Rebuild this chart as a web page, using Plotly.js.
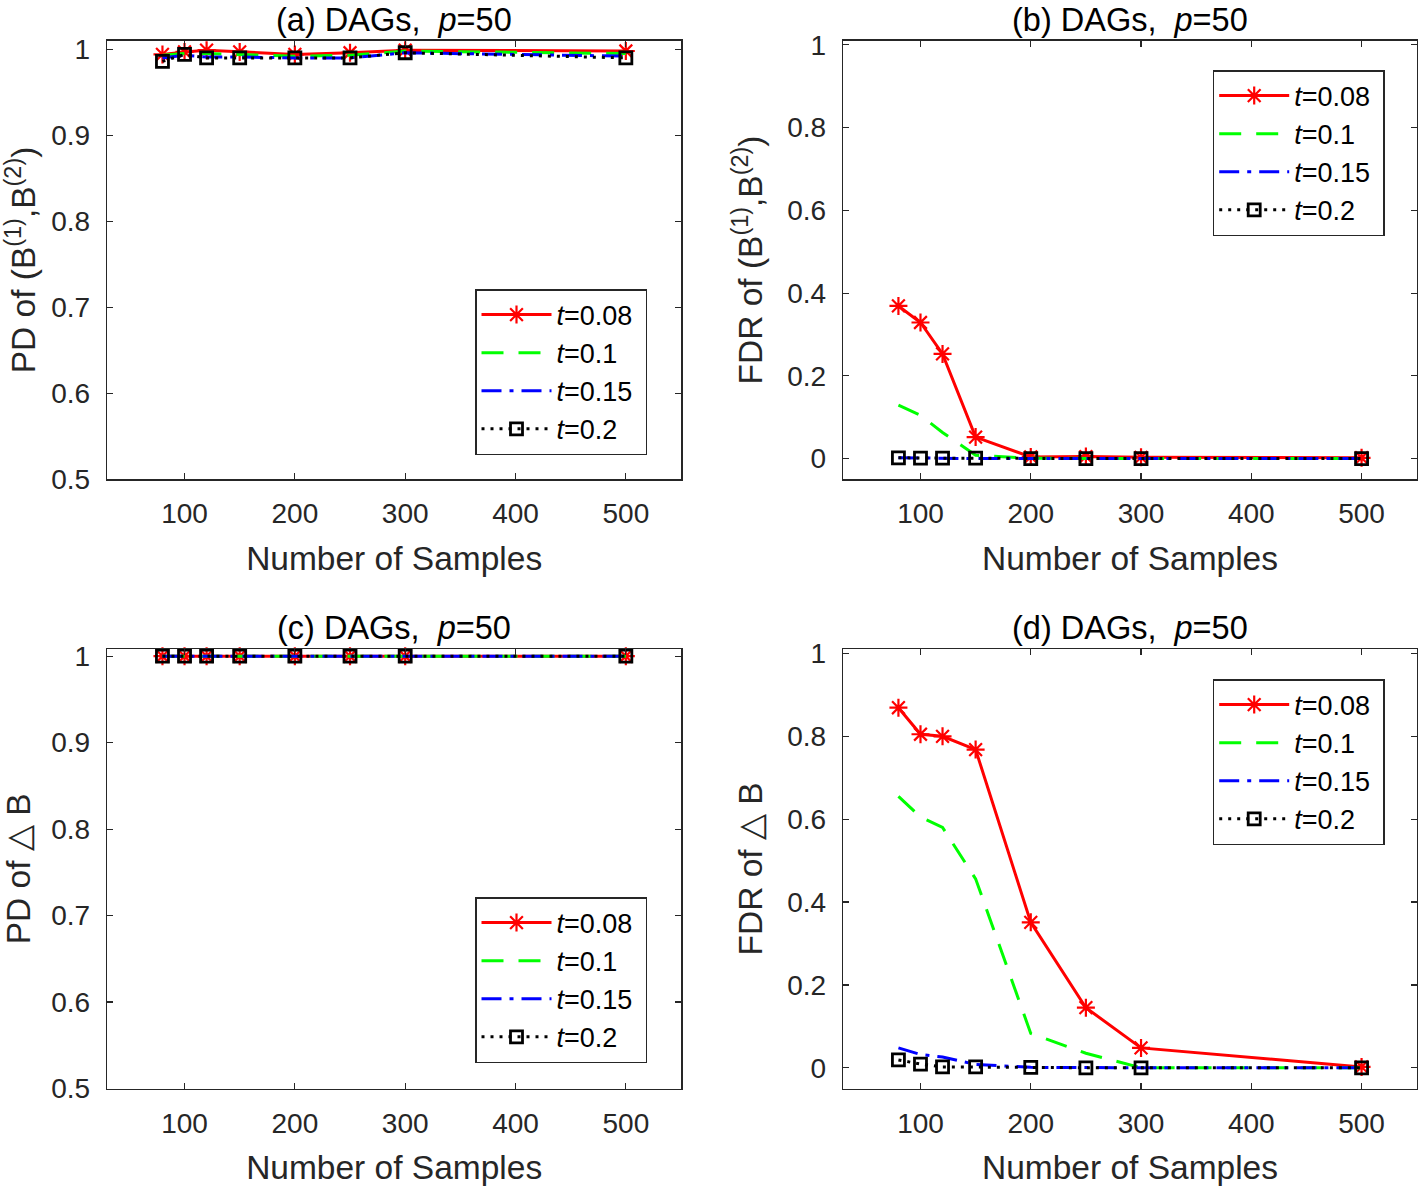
<!DOCTYPE html>
<html>
<head>
<meta charset="utf-8">
<script src="https://cdn.plot.ly/plotly-3.0.1.min.js"></script>
<style>
html,body{margin:0;padding:0;background:#fff;}
#chart{width:1418px;height:1186px;}
</style>
</head>
<body>
<div id="chart"></div>
<script>
// ---- data ----
const samples = [80, 100, 120, 150, 200, 250, 300, 500];
const seriesNames = ['<i>t</i>=0.08', '<i>t</i>=0.1', '<i>t</i>=0.15', '<i>t</i>=0.2'];

// (a) PD of (B(1),B(2))
const pdB12_t008 = [0.994, 0.997, 0.999, 0.997, 0.994, 0.996, 0.999, 0.998];
const pdB12_t01  = [0.993, 0.995, 0.995, 0.994, 0.992, 0.993, 0.998, 0.995];
const pdB12_t015 = [0.990, 0.993, 0.991, 0.991, 0.990, 0.990, 0.996, 0.992];
const pdB12_t02  = [0.986, 0.994, 0.990, 0.990, 0.990, 0.990, 0.996, 0.990];

// (b) FDR of (B(1),B(2))
const fdrB12_t008 = [0.369, 0.329, 0.253, 0.052, 0.004, 0.005, 0.003, 0.002];
const fdrB12_t01  = [0.129, 0.105, 0.063, 0.008, 0.001, 0.000, 0.000, 0.000];
const fdrB12_t015 = [0.002, 0.001, 0.001, 0.000, 0.000, 0.000, 0.000, 0.000];
const fdrB12_t02  = [0.002, 0.001, 0.001, 0.001, 0.000, 0.000, 0.000, 0.000];

// (c) PD of delta B
const pdDB_t008 = [1, 1, 1, 1, 1, 1, 1, 1];
const pdDB_t01  = [1, 1, 1, 1, 1, 1, 1, 1];
const pdDB_t015 = [1, 1, 1, 1, 1, 1, 1, 1];
const pdDB_t02  = [1, 1, 1, 1, 1, 1, 1, 1];

// (d) FDR of delta B
const fdrDB_t008 = [0.869, 0.805, 0.800, 0.768, 0.351, 0.145, 0.048, 0.002];
const fdrDB_t01  = [0.655, 0.605, 0.580, 0.456, 0.083, 0.035, 0.000, 0.000];
const fdrDB_t015 = [0.048, 0.032, 0.026, 0.008, 0.001, 0.000, 0.000, 0.000];
const fdrDB_t02  = [0.019, 0.009, 0.002, 0.002, 0.001, 0.000, 0.000, 0.000];

const xTicks = [100, 200, 300, 400, 500];
const panelTitles = ['(a) DAGs,  <i>p</i>=50', '(b) DAGs,  <i>p</i>=50', '(c) DAGs,  <i>p</i>=50', '(d) DAGs,  <i>p</i>=50'];
const yTitles = ['PD of (B<sup>(1)</sup>,B<sup>(2)</sup>)', 'FDR of (B<sup>(1)</sup>,B<sup>(2)</sup>)', 'PD of \u25B3 B', 'FDR of \u25B3 B'];
const xTitle = 'Number of Samples';

// ---- styles ----
const FONT = 'Liberation Sans, Arial, Helvetica, sans-serif';
const AX = '#262626';
const styles = [
  {line: {color: '#ff0000', width: 3, dash: 'solid'}, mode: 'lines+markers',
   marker: {symbol: 'asterisk-open', size: 15, color: '#ff0000', line: {width: 2.2, color: '#ff0000'}}},
  {line: {color: '#00ff00', width: 3, dash: '22px,15px'}, mode: 'lines'},
  {line: {color: '#0000ff', width: 3, dash: '20px,8px,4px,8px'}, mode: 'lines'},
  {line: {color: '#000000', width: 3, dash: '3px,6px'}, mode: 'lines+markers',
   marker: {symbol: 'square-open', size: 12, color: '#000000', line: {width: 2.8, color: '#000000'}}}
];

const panels = [
  {series: [pdB12_t008, pdB12_t01, pdB12_t015, pdB12_t02], xa: 'x', ya: 'y', leg: 'legend'},
  {series: [fdrB12_t008, fdrB12_t01, fdrB12_t015, fdrB12_t02], xa: 'x2', ya: 'y2', leg: 'legend2'},
  {series: [pdDB_t008, pdDB_t01, pdDB_t015, pdDB_t02], xa: 'x3', ya: 'y3', leg: 'legend3'},
  {series: [fdrDB_t008, fdrDB_t01, fdrDB_t015, fdrDB_t02], xa: 'x4', ya: 'y4', leg: 'legend4'}
];

const traces = [];
panels.forEach((p, pi) => {
  p.series.forEach((vals, si) => {
    const s = styles[si];
    const tr = {
      type: 'scatter', x: samples, y: vals, name: seriesNames[si] + '\u00A0',
      xaxis: p.xa, yaxis: p.ya, legend: p.leg, mode: s.mode,
      line: s.line, legendgroup: 'p' + pi + 's' + si, cliponaxis: false
    };
    if (s.marker) tr.marker = s.marker;
    traces.push(tr);
  });
});

const W = 1418, H = 1186;
const colX = [[107.3 / W, 681 / W], [843.3 / W, 1416.7 / W]];
const rowY = [[1 - 479.3 / H, 1 - 40.7 / H], [1 - 1088.5 / H, 1 - 649.3 / H]];

function xaxis(dom, anchor) {
  return {
    domain: dom, anchor: anchor, range: [30, 550], tickvals: xTicks,
    ticks: 'inside', ticklen: 6, tickwidth: 1.2, tickcolor: AX, mirror: 'ticks',
    showline: true, linecolor: AX, linewidth: 1.5, showgrid: false, zeroline: false,
    tickfont: {family: FONT, size: 28, color: AX}, ticklabelstandoff: 9,
    title: {text: xTitle, font: {family: FONT, size: 33.5, color: AX}, standoff: 18}
  };
}
function yaxis(dom, anchor, range, dtick, title) {
  return {
    domain: dom, anchor: anchor, range: range, tick0: 0, dtick: dtick,
    ticks: 'inside', ticklen: 6, tickwidth: 1.2, tickcolor: AX, mirror: 'ticks',
    showline: true, linecolor: AX, linewidth: 1.5, showgrid: false, zeroline: false,
    tickfont: {family: FONT, size: 28, color: AX}, ticklabelstandoff: 10,
    title: {text: title, font: {family: FONT, size: 33.5, color: AX}, standoff: 14}
  };
}
function legend(x, y) {
  return {
    x: x, y: y, xanchor: 'left', yanchor: 'top', xref: 'paper', yref: 'paper',
    bgcolor: '#ffffff', bordercolor: AX, borderwidth: 1.5,
    font: {family: FONT, size: 27, color: '#000'}, itemwidth: 70,
    tracegroupgap: 2, traceorder: 'normal', itemclick: false, itemdoubleclick: false
  };
}

const annotations = [];
const titlePos = [[colX[0], rowY[0]], [colX[1], rowY[0]], [colX[0], rowY[1]], [colX[1], rowY[1]]];
titlePos.forEach((tp, i) => {
  annotations.push({
    text: panelTitles[i], xref: 'paper', yref: 'paper',
    x: (tp[0][0] + tp[0][1]) / 2, y: tp[1][1], xanchor: 'center', yanchor: 'bottom',
    yshift: 1, showarrow: false, font: {family: FONT, size: 32.5, color: '#000'}
  });
});

const layout = {
  width: W, height: H, margin: {l: 0, r: 0, t: 0, b: 0},
  paper_bgcolor: '#fff', plot_bgcolor: '#fff', showlegend: true,
  font: {family: FONT},
  xaxis: xaxis(colX[0], 'y'),
  yaxis: yaxis(rowY[0], 'x', [0.5, 1.01], 0.1, yTitles[0]),
  xaxis2: xaxis(colX[1], 'y2'),
  yaxis2: yaxis(rowY[0], 'x2', [-0.05, 1.01], 0.2, yTitles[1]),
  xaxis3: xaxis(colX[0], 'y3'),
  yaxis3: yaxis(rowY[1], 'x3', [0.5, 1.008], 0.1, yTitles[2]),
  xaxis4: xaxis(colX[1], 'y4'),
  yaxis4: yaxis(rowY[1], 'x4', [-0.05, 1.01], 0.2, yTitles[3]),
  legend: legend(475 / W, 1 - 289 / H),
  legend2: legend(1212.7 / W, 1 - 70 / H),
  legend3: legend(475 / W, 1 - 897 / H),
  legend4: legend(1212.7 / W, 1 - 679 / H),
  annotations: annotations
};

Plotly.newPlot('chart', traces, layout, {displayModeBar: false, staticPlot: true});
</script>
</body>
</html>
